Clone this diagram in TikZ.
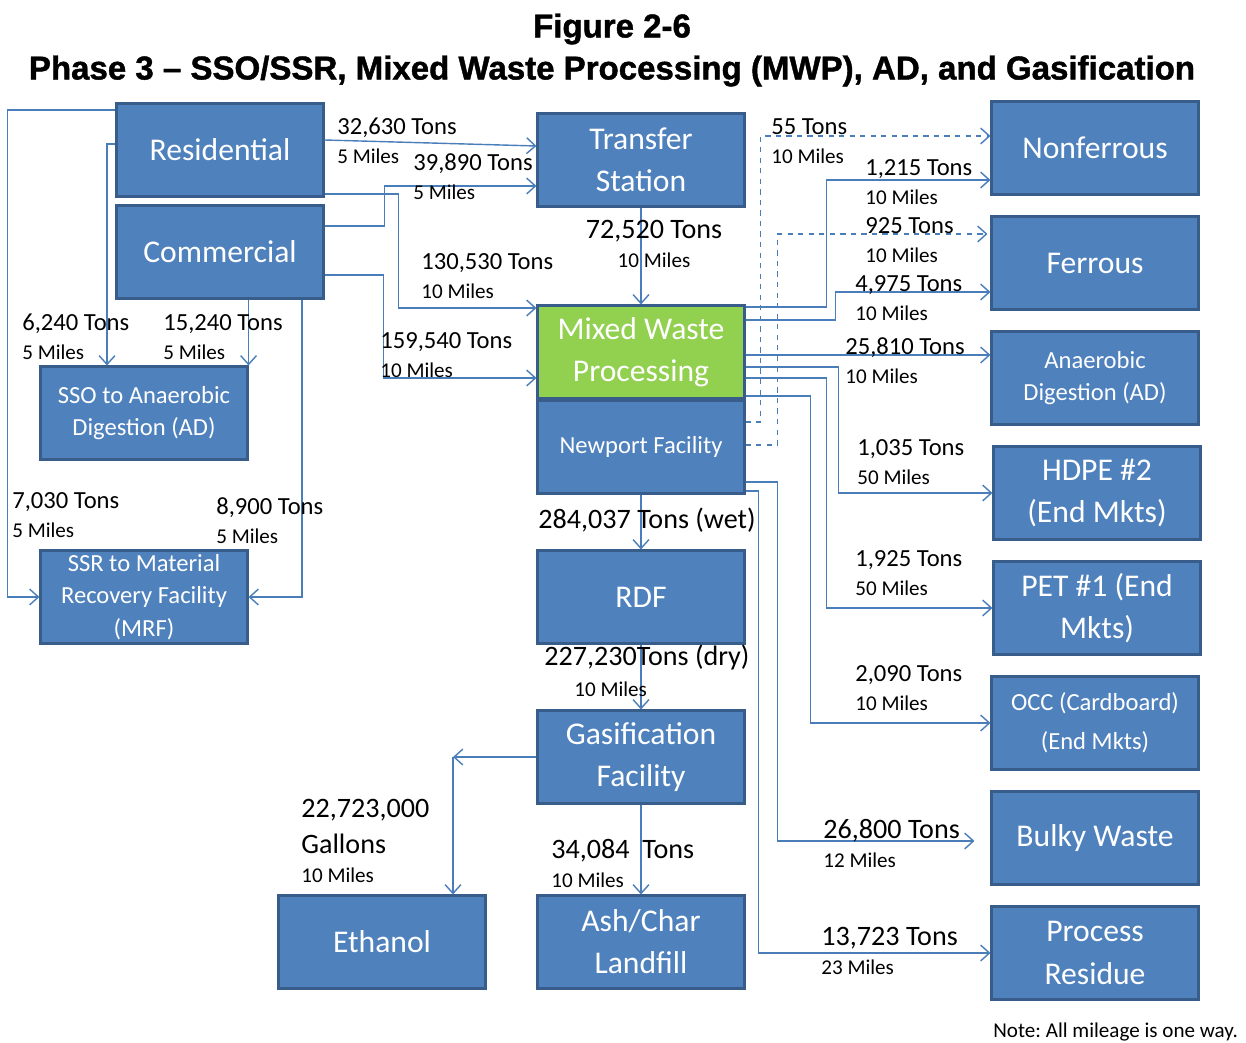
\documentclass[tikz,border=0pt]{standalone}
\usepackage{fontspec}
\setmainfont{Carlito}
\newfontfamily\titlefont{Liberation Sans}[BoldFeatures={FakeBold=1.3}]
\usetikzlibrary{arrows.meta,calc}
\definecolor{boxblue}{HTML}{4F81BD}
\definecolor{boxedge}{HTML}{385D8A}
\definecolor{mwpgreen}{HTML}{92D050}
\definecolor{flowline}{HTML}{4A7EBB}
\newcommand\milesfont{\fontsize{12}{16.5}\selectfont}
\frenchspacing
\begin{document}
\begin{tikzpicture}[x=0.02cm,y=-0.02cm,
    box/.style={draw=boxedge,fill=boxblue,line width=1.2pt,text=white,align=center,
      minimum width=4.14cm,minimum height=1.86cm,inner sep=1pt,font=\fontsize{18}{24}\selectfont},
    smallbox/.style={box,font=\fontsize{14}{18.5}\selectfont},
    lbl/.style={anchor=north west,inner sep=0pt,align=left,font=\fontsize{14}{16.5}\selectfont},
    biglbl/.style={lbl,font=\fontsize{16}{16.5}\selectfont},
    flow/.style={draw=flowline,line width=0.8pt,-{Straight Barb[length=5pt,width=9pt]}},
    ttl/.style={font=\titlefont\bfseries\fontsize{18.8}{22}\selectfont}]
  \useasboundingbox (0,0) rectangle (1246,1043);
  \node[ttl] (fig) at (612,29) {Figure 2-6};
  \node[ttl] (title) at (612,71) {Phase 3 – SSO/SSR, Mixed Waste Processing (MWP), AD, and Gasification};

  \node[box] (res) at (220,150) {Residential};
  \node[box] (com) at (220,252) {Commercial};
  \node[box] (ts) at (641,160) {Transfer\\Station};
  \node[box,fill=mwpgreen] (mwp) at (641,352) {Mixed Waste\\Processing};
  \node[smallbox] (np) at (641,447) {Newport Facility};
  \node[smallbox] (sso) at (144,413) {SSO to Anaerobic\\Digestion (AD)};
  \node[smallbox] (ssr) at (144,597) {SSR to Material\\Recovery Facility\\(MRF)};
  \node[box] (rdf) at (641,597) {RDF};
  \node[box] (gas) at (641,757) {Gasification\\Facility};
  \node[box] (eth) at (382,942) {Ethanol};
  \node[box] (ash) at (641,942) {Ash/Char\\Landfill};
  \node[box] (nonf) at (1095,148) {Nonferrous};
  \node[box] (fer) at (1095,263) {Ferrous};
  \node[smallbox] (ad) at (1095,378) {Anaerobic\\Digestion (AD)};
  \node[box] (hdpe) at (1097,493) {HDPE \#2\\(End Mkts)};
  \node[box] (pet) at (1097,608) {PET \#1 (End\\Mkts)};
  \node[smallbox,font=\fontsize{14}{22}\selectfont] (occ) at (1095,723) {OCC (Cardboard)\\(End Mkts)};
  \node[box] (bulky) at (1095,838) {Bulky Waste};
  \node[box] (pres) at (1095,953) {Process\\Residue};

  \draw[flow] ($(res.east)+(0,-10)$) -- ($(ts.west)+(0,-14)$);
  \draw[flow] ($(com.east)+(0,-26)$) -- ++(60,0) |- ($(ts.west)+(0,26)$);
  \draw[flow] ($(res.east)+(0,44)$) -- ++(74,0) |- ($(mwp.west)+(0,-44)$);
  \draw[flow] ($(com.east)+(0,23)$) -- ++(59,0) |- ($(mwp.west)+(0,26)$);
  \draw[flow] ($(res.west)+(0,-6)$) -| ($(sso.north)+(-37,0)$);
  \draw[flow] (sso.north east |- com.south) -- (sso.north east);
  \draw[flow] ($(res.west)+(0,-40)$) -- ++(-108,0) |- (ssr.west);
  \draw[flow] ($(com.south)+(82,0)$) |- (ssr.east);
  \draw[flow] (ts) -- (mwp);

  \draw[flow,dashed] ($(np.east)+(0,-25)$) -- ++(15,0) |- ($(nonf.west)+(0,-12)$);
  \draw[flow,dashed] ($(np.east)+(0,-2)$) -- ++(32,0) |- ($(fer.west)+(-3,-29)$);
  \draw[flow] ($(mwp.east)+(0,-45)$) -- ++(81,0) |- ($(nonf.west)+(0,32)$);
  \draw[flow] ($(mwp.east)+(0,-32)$) -- ++(90,0) |- ($(fer.west)+(0,29)$);
  \draw[flow] ($(mwp.east)+(0,3)$) -- ($(ad.west)+(0,-23)$);
  \draw[flow] ($(mwp.east)+(0,15)$) -- ++(93,0) |- (hdpe.west);
  \draw[flow] ($(mwp.east)+(0,26)$) -- ++(81,0) |- (pet.west);
  \draw[flow] ($(mwp.east)+(0,44)$) -- ++(65,0) |- (occ.west);
  \draw[flow] ($(np.east)+(0,35)$) -- ++(32,0) |- ($(bulky.west)+(-16,3)$);
  \draw[flow] ($(np.east)+(0,44)$) -- ++(13,0) |- (pres.west);

  \draw[flow] (np) -- (rdf);
  \draw[flow] (rdf) -- (gas);
  \coordinate (ethbend) at (453,757);
  \draw[flow] (gas.west) -- (ethbend);
  \draw[flow] (ethbend) -- (ethbend |- eth.north);
  \draw[flow] (gas) -- (ash);

  \node[lbl] (q1) at (337,118) {32,630 Tons\\{\milesfont 5 Miles}};
  \node[lbl] (q2) at (413,153) {39,890 Tons\\{\milesfont 5 Miles}};
  \node[lbl] (q3) at (421,253) {130,530 Tons\\{\milesfont 10 Miles}};
  \node[lbl] (q4) at (380,332) {159,540 Tons\\{\milesfont 10 Miles}};
  \node[lbl] (q5) at (22,314) {6,240 Tons\\{\milesfont 5 Miles}};
  \node[lbl] (q6) at (163,314) {15,240 Tons\\{\milesfont 5 Miles}};
  \node[lbl] (q7) at (12,492) {7,030 Tons\\{\milesfont 5 Miles}};
  \node[lbl] (q8) at (216,497) {8,900 Tons\\{\milesfont 5 Miles}};
  \node[biglbl,anchor=north,align=center] (q9) at (654,220) {72,520 Tons\\{\milesfont 10 Miles}};
  \node[lbl] (q10) at (771,118) {55 Tons\\{\milesfont 10 Miles}};
  \node[lbl] (q11) at (865,159) {1,215 Tons\\{\milesfont 10 Miles}};
  \node[lbl] (q12) at (865,217) {925 Tons\\{\milesfont 10 Miles}};
  \node[lbl] (q13) at (855,275) {4,975 Tons\\{\milesfont 10 Miles}};
  \node[lbl] (q14) at (845,337) {25,810 Tons\\{\milesfont 10 Miles}};
  \node[lbl] (q15) at (857,439) {1,035 Tons\\{\milesfont 50 Miles}};
  \node[lbl] (q16) at (855,550) {1,925 Tons\\{\milesfont 50 Miles}};
  \node[lbl] (q17) at (855,665) {2,090 Tons\\{\milesfont 10 Miles}};
  \node[biglbl] (q18) at (823,819) {26,800 Tons\\{\milesfont 12 Miles}};
  \node[biglbl] (q19) at (821,927) {13,723 Tons\\{\milesfont 23 Miles}};
  \node[biglbl,anchor=west] (q20) at (538,520) {284,037 Tons (wet)};
  \node[biglbl,anchor=west] (q21) at (544,657) {227,230Tons (dry)};
  \node[lbl,anchor=west,font=\milesfont] (q22) at (574,689) {10 Miles};
  \node[biglbl] (q23) at (301,799) {22,723,000\\[4pt]Gallons\\{\milesfont 10 Miles}};
  \node[biglbl] (q24) at (551,839) {34,084\ \ Tons\\{\milesfont 10 Miles}};
  \node[lbl,anchor=west,font=\milesfont] (note) at (993,1032) {Note: All mileage is one way.};
\end{tikzpicture}
\end{document}
